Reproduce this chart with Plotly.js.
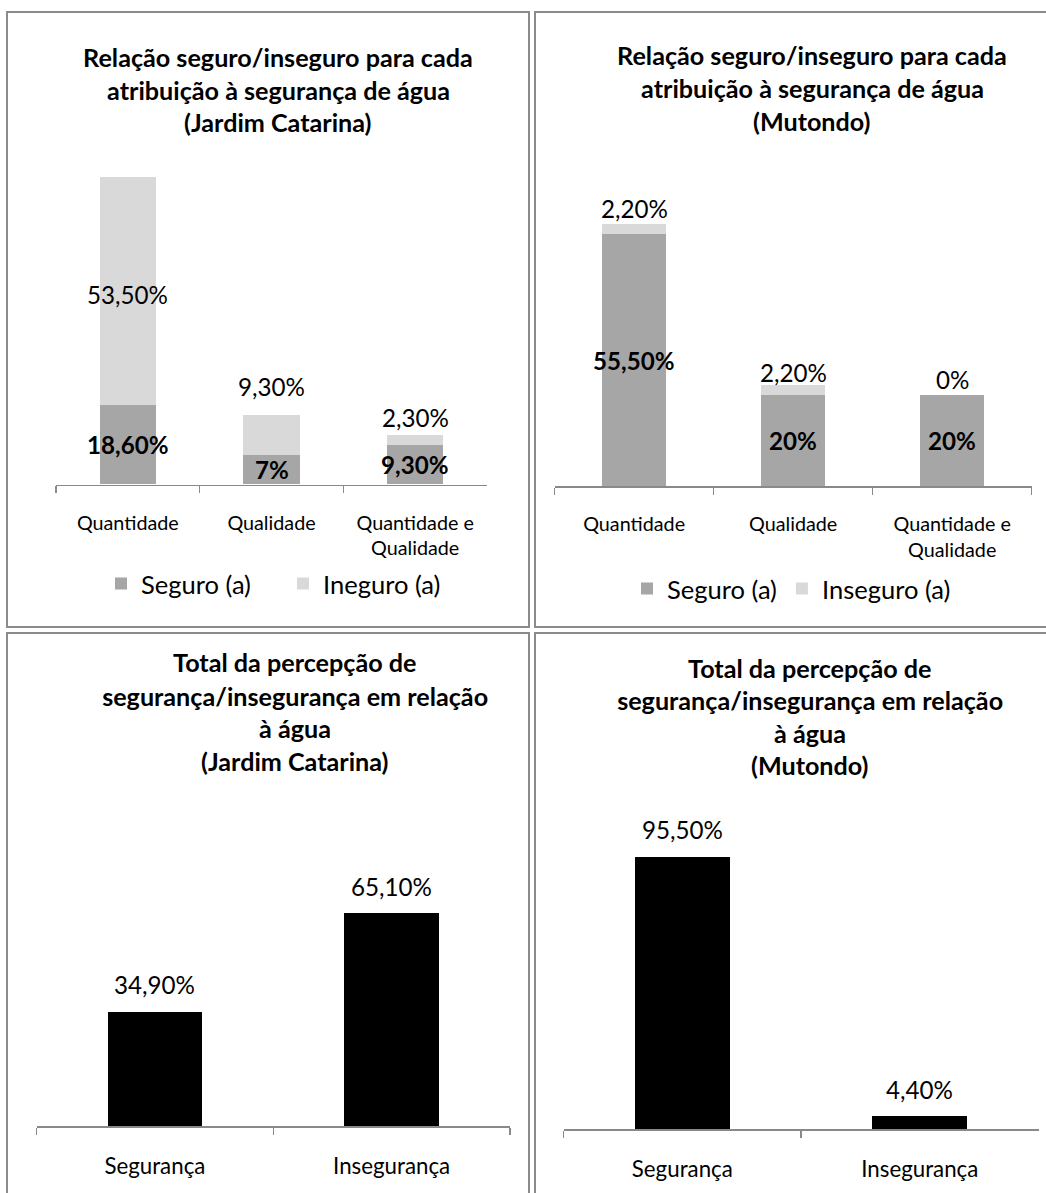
<!DOCTYPE html>
<html><head><meta charset="utf-8">
<script src="https://cdn.plot.ly/plotly-3.0.1.min.js"></script>
<style>html,body{margin:0;padding:0;background:#fff}#chart{width:1046px;height:1193px}</style>
</head><body><div id="chart"></div>
<script>
// ---------- DATA ----------
const catsTop = ['Quantidade', 'Qualidade', 'Quantidade e<br>Qualidade'];
const jcSeguro = [18.6, 7, 9.3];
const jcInseguro = [53.5, 9.3, 2.3];
const muSeguro = [55.5, 20, 20];
const muInseguro = [2.2, 2.2, 0];
const legendJC = ['Seguro (a)', 'Ineguro (a)'];
const legendMU = ['Seguro (a)', 'Inseguro (a)'];
const catsBottom = ['Segurança', 'Insegurança'];
const jcTotal = [34.9, 65.1];
const muTotal = [95.5, 4.4];
const titleTL = ['Relação seguro/inseguro para cada', 'atribuição à segurança de água', '(Jardim Catarina)'];
const titleTR = ['Relação seguro/inseguro para cada', 'atribuição à segurança de água', '(Mutondo)'];
const titleBL = ['Total da percepção de', 'segurança/insegurança em relação', 'à água', '(Jardim Catarina)'];
const titleBR = ['Total da percepção de', 'segurança/insegurança em relação', 'à água', '(Mutondo)'];

// ---------- STYLE / GEOMETRY ----------
const W = 1046, H = 1193;
const X = v => v / W, Y = v => 1 - v / H;
const FONT = 'Lato, "Open Sans", sans-serif';
const DARK = '#a6a6a6', LIGHT = '#d9d9d9', BLACK = '#000000', AXIS = '#898989';

const ctx = document.createElement('canvas').getContext('2d');
function fit(text, target, weight) {
  ctx.font = (weight || 'normal') + ' 100px Lato';
  return 100 * target / ctx.measureText(text).width;
}
const titleSize = fit('Relação seguro/inseguro para cada', 390, 'bold');
const labelSize = fit('53,50%', 81, 'normal');
const tickTopSize = fit('Quantidade', 102, 'normal');
const tickBotSize = fit('Segurança', 101, 'normal');
const legendSize = fit('Seguro (a)', 110, 'normal');

const G = {
  tl: {x0: 56, x1: 487, base: 484.5, ppu: 4.26, ymax: 80},
  tr: {x0: 554.6, x1: 1031.7, base: 486, ppu: 4.54, ymax: 70},
  bl: {x0: 36.5, x1: 510, base: 1126, ppu: 3.27, ymax: 70},
  br: {x0: 563.6, x1: 1038.5, base: 1129, ppu: 2.85, ymax: 100}
};

const fmt = v => (Number.isInteger(v) ? String(v) : v.toFixed(2).replace('.', ',')) + '%';

// ---------- TRACES ----------
const traces = [
  {type: 'bar', x: catsTop, y: jcSeguro, name: legendJC[0], marker: {color: DARK}, width: 0.39, xaxis: 'x', yaxis: 'y', legend: 'legend', hoverinfo: 'skip'},
  {type: 'bar', x: catsTop, y: jcInseguro, name: legendJC[1], marker: {color: LIGHT}, width: 0.39, xaxis: 'x', yaxis: 'y', legend: 'legend', hoverinfo: 'skip'},
  {type: 'bar', x: catsTop, y: muSeguro, name: legendMU[0], marker: {color: DARK}, width: 0.4, xaxis: 'x2', yaxis: 'y2', legend: 'legend2', hoverinfo: 'skip'},
  {type: 'bar', x: catsTop, y: muInseguro, name: legendMU[1], marker: {color: LIGHT}, width: 0.4, xaxis: 'x2', yaxis: 'y2', legend: 'legend2', hoverinfo: 'skip'},
  {type: 'bar', x: catsBottom, y: jcTotal, marker: {color: BLACK}, width: 0.4, xaxis: 'x3', yaxis: 'y3', showlegend: false, hoverinfo: 'skip'},
  {type: 'bar', x: catsBottom, y: muTotal, marker: {color: BLACK}, width: 0.4, xaxis: 'x4', yaxis: 'y4', showlegend: false, hoverinfo: 'skip'}
];

// ---------- ANNOTATIONS ----------
const ann = [];
function addTitle(lines, cx, ys) {
  lines.forEach((t, i) => ann.push({xref: 'paper', yref: 'paper', x: X(cx), y: Y(ys[i]), text: t, showarrow: false,
    xanchor: 'center', yanchor: 'middle', font: {family: FONT, size: titleSize, color: '#000', weight: 'bold'}}));
}
addTitle(titleTL, 278, [57, 90, 122]);
addTitle(titleTR, 812, [55, 88, 121]);
addTitle(titleBL, 295, [662, 695.5, 728, 760.5]);
addTitle(titleBR, 810, [667.5, 700, 732.5, 765]);

function lab(xr, yr, x, y, v, bold, shift) {
  ann.push({xref: xr, yref: yr, x: x, y: y, text: fmt(v), showarrow: false, xanchor: 'center', yanchor: 'middle',
    yshift: shift || 0, font: {family: FONT, size: labelSize, color: '#000', weight: bold ? 'bold' : 'normal'}});
}
// Jardim Catarina stacked
const tlOut = [false, true, true], tlShift = [0, 29, 18];
catsTop.forEach((c, i) => {
  lab('x', 'y', c, jcSeguro[i] / 2, jcSeguro[i], true);
  if (tlOut[i]) lab('x', 'y', c, jcSeguro[i] + jcInseguro[i], jcInseguro[i], false, tlShift[i]);
  else lab('x', 'y', c, jcSeguro[i] + jcInseguro[i] / 2, jcInseguro[i], false, -3);
});
// Mutondo stacked
const trShift = [16, 13, 16];
catsTop.forEach((c, i) => {
  lab('x2', 'y2', c, muSeguro[i] / 2, muSeguro[i], true);
  lab('x2', 'y2', c, muSeguro[i] + muInseguro[i], muInseguro[i], false, trShift[i]);
});
catsBottom.forEach((c, i) => {
  lab('x3', 'y3', c, jcTotal[i], jcTotal[i], false, 27);
  lab('x4', 'y4', c, muTotal[i], muTotal[i], false, 27);
});

// ---------- PANEL BORDERS ----------
const border = {color: '#8b8b8b', width: 2};
const shapes = [
  [7, 529, 12, 627], [535, 1070, 12, 627], [7, 529, 633, 1220], [535, 1070, 633, 1220]
].map(b => ({type: 'rect', xref: 'paper', yref: 'paper', x0: X(b[0]), x1: X(b[1]), y0: Y(b[2]), y1: Y(b[3]), line: border, fillcolor: 'rgba(0,0,0,0)'}));

// ---------- AXES ----------
function xa(g, size) {
  return {domain: [X(g.x0), X(g.x1)], type: 'category', showline: true, linecolor: AXIS, linewidth: 1.5,
    ticks: 'outside', tickson: 'boundaries', ticklen: 7, tickwidth: 1.5, tickcolor: AXIS,
    showgrid: false, zeroline: false, fixedrange: true, ticklabelstandoff: 20,
    tickfont: {family: FONT, size: size, color: '#000'}};
}
function ya(g) {
  return {domain: [Y(g.base), Y(g.base - g.ymax * g.ppu)], range: [0, g.ymax], visible: false, fixedrange: true};
}
const legendBase = {orientation: 'h', xref: 'paper', yref: 'paper', xanchor: 'left', yanchor: 'middle',
  font: {family: FONT, size: legendSize, color: '#000'}, bgcolor: 'rgba(0,0,0,0)', traceorder: 'normal'};

const layout = {
  width: W, height: H, margin: {l: 0, r: 0, t: 0, b: 0, pad: 0},
  paper_bgcolor: '#fff', plot_bgcolor: 'rgba(0,0,0,0)', barmode: 'stack',
  font: {family: FONT, color: '#000'},
  xaxis: Object.assign(xa(G.tl, tickTopSize), {anchor: 'y'}), yaxis: Object.assign(ya(G.tl), {anchor: 'x'}),
  xaxis2: Object.assign(xa(G.tr, tickTopSize), {anchor: 'y2'}), yaxis2: Object.assign(ya(G.tr), {anchor: 'x2'}),
  xaxis3: Object.assign(xa(G.bl, tickBotSize), {anchor: 'y3'}), yaxis3: Object.assign(ya(G.bl), {anchor: 'x3'}),
  xaxis4: Object.assign(xa(G.br, tickBotSize), {anchor: 'y4'}), yaxis4: Object.assign(ya(G.br), {anchor: 'x4'}),
  legend: Object.assign({}, legendBase, {x: X(101), y: Y(584), entrywidthmode: 'pixels', entrywidth: 137}),
  legend2: Object.assign({}, legendBase, {x: X(627), y: Y(589)}),
  annotations: ann, shapes: shapes, showlegend: true
};

Plotly.newPlot('chart', traces, layout, {displayModeBar: false, staticPlot: true});
</script>
</body></html>
